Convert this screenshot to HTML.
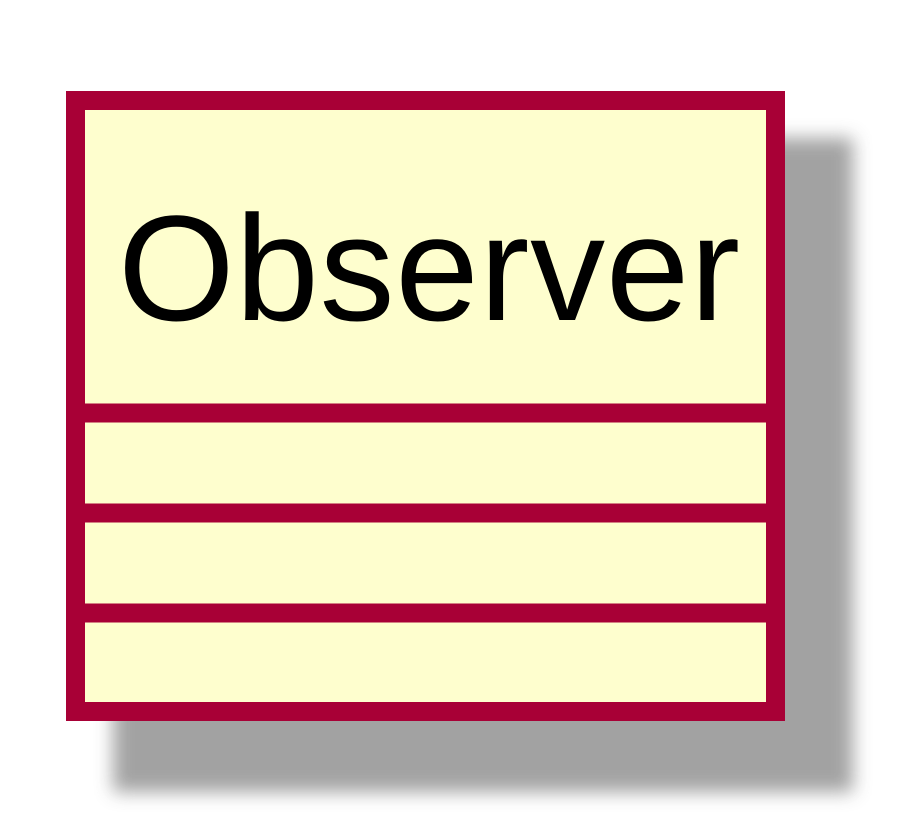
<!DOCTYPE html>
<html><head><meta charset="utf-8"><style>html,body{margin:0;padding:0;background:#fff;}svg{display:block}</style></head>
<body>
<svg width="900" height="838" viewBox="0 0 900 838">
<defs><filter id="blur" x="-10%" y="-10%" width="120%" height="120%"><feGaussianBlur stdDeviation="9"/></filter></defs>
<rect x="113" y="138" width="740" height="654" fill="#999" opacity="0.9" filter="url(#blur)"/>
<g>
<rect x="75.5" y="100.5" width="700" height="611" fill="#FEFECE" stroke="#A80036" stroke-width="19"/>
<text x="118" y="320" font-family="Liberation Sans, sans-serif" font-size="150" textLength="622" lengthAdjust="spacing" fill="#000">Observer</text>
<line x1="75" y1="413" x2="776" y2="413" stroke="#A80036" stroke-width="19"/>
<line x1="75" y1="513" x2="776" y2="513" stroke="#A80036" stroke-width="19"/>
<line x1="75" y1="613" x2="776" y2="613" stroke="#A80036" stroke-width="19"/>
</g>
</svg>
</body></html>
